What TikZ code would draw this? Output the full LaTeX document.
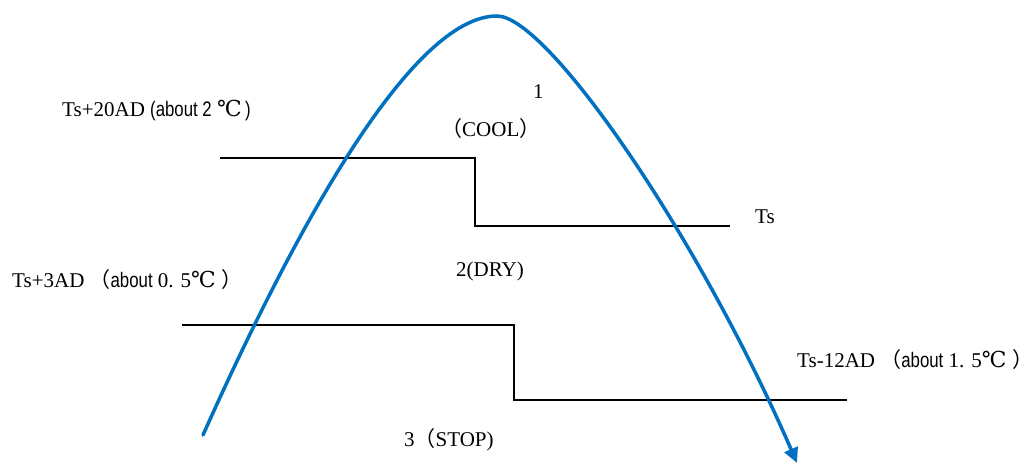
\documentclass[tikz,border=0pt]{standalone}
\usepackage{fontspec}
\setmainfont{Liberation Serif}
\newfontfamily\narrowsans[FakeStretch=0.8]{Liberation Sans}
\newfontfamily\cjk{Noto Sans CJK SC}
\newfontfamily\degfont{DejaVu Serif}
\usetikzlibrary{arrows.meta}
\definecolor{curveblue}{HTML}{0070C0}
\tikzset{
  lbl/.style={inner sep=0pt, anchor=base west, font=\fontsize{21}{24}\selectfont},
  stepline/.style={line width=2.5pt, black},
  curveline/.style={line width=3.5pt, curveblue, line cap=round}
}
\newcommand{\abt}{{\narrowsans about}}
\newcommand{\lpar}{{\cjk （}}
\newcommand{\rpar}{{\cjk ）}}
\newcommand{\degc}{{\degfont\fontsize{22}{24}\selectfont ℃}}
\begin{document}
\begin{tikzpicture}[x=1pt,y=-1pt]
\useasboundingbox (0,0) rectangle (1032,465);
% step lines
\draw[stepline] (220,158) -- (475,158) -- (475,226) -- (730,226);
\draw[stepline] (182,325) -- (514,325) -- (514,400) -- (847,400);
% curve
\coordinate (cs) at (203,435);
\coordinate (ctop) at (497,16);
\coordinate (ce) at (797,463);
\draw[curveline, -{Triangle[length=15pt,width=14pt]}] (cs) .. controls (313,189) and (420,16) .. (ctop)
  .. controls (547,16) and (697,233) .. (ce);
% labels
\node[lbl] (l20) at (62,117) {Ts+20AD {\narrowsans (about 2} \degc\,{\narrowsans )}};
\node[lbl] (one) at (533,99) {1};
\node[lbl] (cool) at (441,137) {\lpar COOL\rpar};
\node[lbl] (ts) at (755,223) {Ts};
\node[lbl] (dry) at (456,276) {2(DRY)};
\node[lbl] (l3) at (12,287) {Ts+3AD \lpar\abt{} 0.\,\,5\degc\;\rpar};
\node[lbl] (l12) at (797,367) {Ts-12AD \lpar\abt{} 1.\,\,5\degc\;\rpar};
\node[lbl] (stop) at (404,446) {3\lpar STOP)};
\end{tikzpicture}
\end{document}
